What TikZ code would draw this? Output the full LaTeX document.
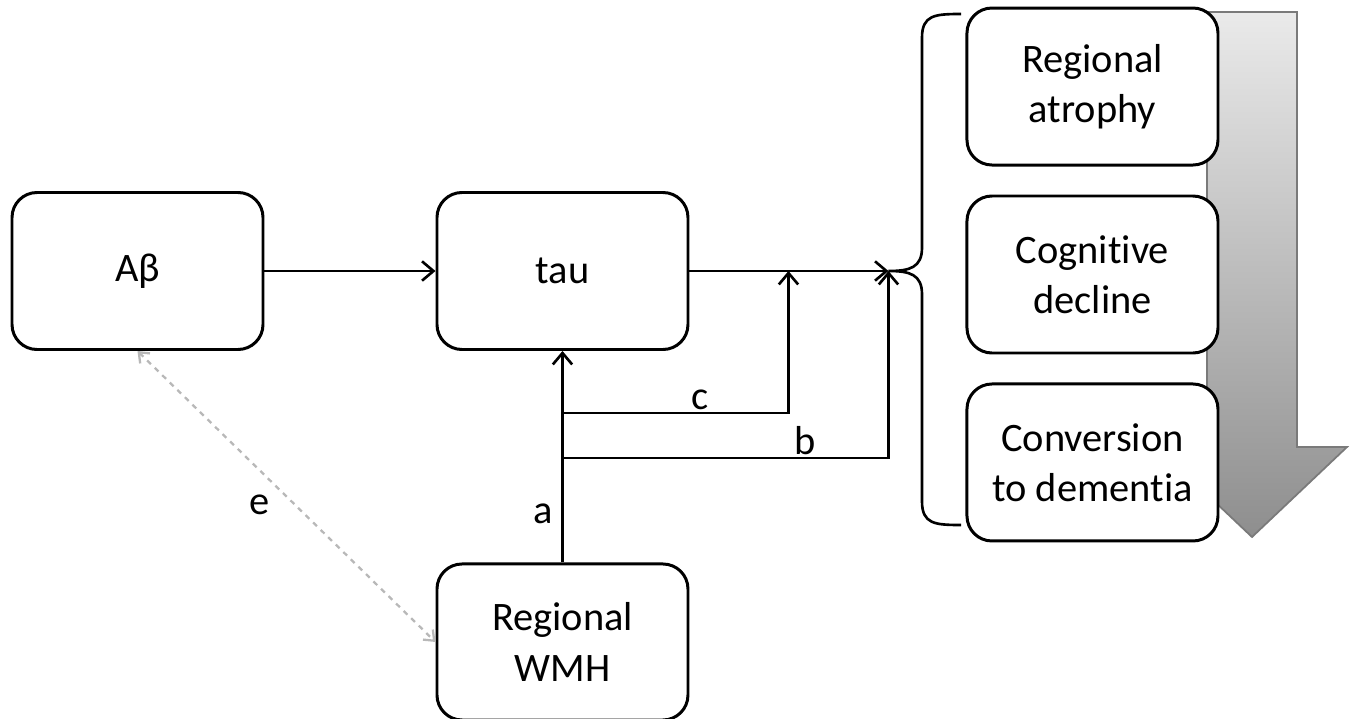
\documentclass[tikz,border=0pt]{standalone}
\usepackage{fontspec}
\setmainfont{Carlito}[Ligatures=NoCommon]
\usetikzlibrary{arrows.meta,positioning,calc,backgrounds}
\definecolor{egray}{HTML}{B8B8B8}
\definecolor{sgray}{HTML}{8E8E8E}
\definecolor{lgray}{HTML}{EAEAEA}
\definecolor{ogray}{HTML}{7A7A7A}
\tikzset{
  blk/.style={draw,fill=white,rounded corners=0.5cm,line width=1.7pt,align=center,minimum width=5.02cm,minimum height=3.14cm,font=\fontsize{23}{28.5}\selectfont},
  arr/.style={-{Straight Barb[length=6.5pt,width=11pt]},line width=1.5pt},
  darr/.style={{Straight Barb[length=5pt,width=8pt]}-{Straight Barb[length=5pt,width=8pt]},dashed,draw=egray,line width=1.3pt},
  brc/.style={line width=1.5pt},
  lbl/.style={font=\fontsize{23}{28.5}\selectfont,inner sep=1pt},
  bigarr/.style={draw=ogray,line width=1pt,top color=lgray,bottom color=sgray},
}
\begin{document}
\begin{tikzpicture}
  \useasboundingbox (0,0) rectangle (27.08,-14.38);
  \node[blk] (ab) at (2.75,-5.42) {Aβ};
  \node[blk,right=3.42cm of ab] (tau) {tau};
  \node[blk,below=4.23cm of tau,minimum height=3.12cm] (wmh) {Regional\\WMH};
  \node[blk,right=5.52cm of tau,yshift=-0.07cm] (cog) {Cognitive\\decline};
  \node[blk,above=0.56cm of cog] (atr) {Regional\\atrophy};
  \node[blk,below=0.56cm of cog] (conv) {Conversion\\to dementia};
  % big shaded arrow behind the outcome boxes
  \begin{scope}[on background layer]
    \draw[bigarr] (24.14,-0.24) -- (25.94,-0.24) -- (25.94,-8.94) -- (26.94,-8.94) -- (25.04,-10.74) -- (23.14,-8.94) -- (24.14,-8.94) -- cycle;
  \end{scope}
  \coordinate (tip) at ($(tau.east)+(3.98,0)$);
  \coordinate (cj) at ($(tau.east)+(1.98,0)$);
  \coordinate (c0) at ($(tau.south)+(0,-1.24)$);
  \coordinate (b0) at ($(tau.south)+(0,-2.14)$);
  \draw[arr] (ab) -- (tau);
  \draw[arr] (tau) -- (tip);
  \draw[arr] (wmh) -- node[lbl,left=4pt,pos=0.23]{a} (tau);
  \draw[arr] (c0) -| node[lbl,above,pos=0.305]{c} (cj);
  \draw[arr] (b0) -| node[lbl,above,pos=0.372]{b} (tip);
  \draw[darr] (ab.south) -- node[lbl,pos=0.53,left=0.45cm]{e} (wmh.west);
  % brace
  \draw[brc] (19.22,-0.28) .. controls (18.7,-0.28) and (18.44,-0.3) .. (18.44,-0.75) -- (18.44,-4.95) .. controls (18.44,-5.35) and (18.2,-5.42) .. (tip) .. controls (18.2,-5.42) and (18.44,-5.49) .. (18.44,-5.89) -- (18.44,-10.03) .. controls (18.44,-10.48) and (18.7,-10.5) .. (19.22,-10.5);
\end{tikzpicture}
\end{document}
